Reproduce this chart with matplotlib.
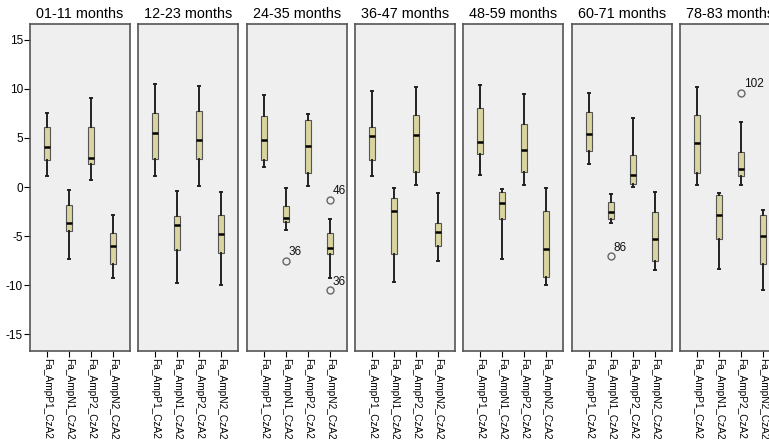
import numpy as np
import matplotlib
matplotlib.use("Agg")
import matplotlib.pyplot as plt

plt.rcParams['font.family'] = ['Liberation Sans', 'DejaVu Sans']
plt.rcParams['axes.unicode_minus'] = False

groups = ['01-11 months', '12-23 months', '24-35 months', '36-47 months',
          '48-59 months', '60-71 months', '78-83 months']
variables = ['Fa_AmpP1_CzA2', 'Fa_AmpN1_CzA2', 'Fa_AmpP2_CzA2', 'Fa_AmpN2_CzA2']

# per group, per variable: (whisker low, q1, median, q3, whisker high)
stats_0111 = [(1.1, 2.8, 4.1, 6.15, 7.55), (-7.3, -4.5, -3.7, -1.8, -0.35),
              (0.75, 2.3, 3.0, 6.1, 9.1), (-9.3, -7.8, -6.0, -4.65, -2.9)]
stats_1223 = [(1.1, 2.9, 5.5, 7.5, 10.5), (-9.8, -6.45, -3.9, -3.0, -0.45),
              (0.1, 2.85, 4.75, 7.7, 10.25), (-10.0, -6.7, -4.8, -2.9, -0.5)]
stats_2435 = [(2.0, 2.7, 4.75, 7.2, 9.4), (-4.4, -3.55, -3.15, -1.9, -0.15),
              (0.15, 1.45, 4.2, 6.8, 7.4), (-9.25, -6.85, -6.2, -4.7, -3.25)]
stats_3647 = [(1.1, 2.7, 5.15, 6.15, 9.8), (-9.65, -6.85, -2.4, -1.1, -0.15),
              (0.2, 1.55, 5.25, 7.3, 10.15), (-7.55, -6.0, -4.6, -3.7, -0.65)]
stats_4859 = [(1.25, 3.4, 4.55, 8.05, 10.35), (-7.3, -3.3, -1.65, -0.5, -0.2),
              (0.2, 1.55, 3.8, 6.45, 9.5), (-9.95, -9.15, -6.3, -2.4, -0.15)]
stats_6071 = [(2.35, 3.7, 5.4, 7.6, 9.55), (-3.65, -3.3, -2.5, -1.5, -0.75),
              (0.05, 0.35, 1.2, 3.3, 7.05), (-8.5, -7.5, -5.25, -2.5, -0.55)]
stats_7883 = [(0.2, 1.45, 4.5, 7.3, 10.15), (-8.3, -5.25, -2.8, -0.85, -0.6),
              (0.2, 1.1, 1.8, 3.55, 6.65), (-10.5, -7.8, -4.95, -2.9, -2.35)]
all_stats = [stats_0111, stats_1223, stats_2435, stats_3647,
             stats_4859, stats_6071, stats_7883]

# outliers: (group index, variable index, value, case label)
outlier_group = [2, 2, 2, 5, 6]
outlier_var = [1, 3, 3, 1, 2]
outlier_val = [-7.5, -1.3, -10.5, -7.05, 9.6]
outlier_lab = ['36', '46', '36', '86', '102']

box_color = '#d9d4a0'
bg_color = '#efefef'

fig = plt.figure(figsize=(7.69, 4.41), dpi=100)
W, H = 769.0, 441.0
lefts = [30, 138, 247, 355, 463, 572, 680]
for i, (name, stats) in enumerate(zip(groups, all_stats)):
    ax = fig.add_axes([lefts[i] / W, 90 / H, 100 / W, 327 / H])
    ax.set_facecolor(bg_color)
    bxp = []
    for j, (lo, q1, med, q3, hi) in enumerate(stats):
        fl = [v for g, k, v in zip(outlier_group, outlier_var, outlier_val)
              if g == i and k == j]
        bxp.append(dict(whislo=lo, q1=q1, med=med, q3=q3, whishi=hi, fliers=fl))
    ax.bxp(bxp, positions=[1, 2, 3, 4], widths=0.26, patch_artist=True,
           boxprops=dict(facecolor=box_color, edgecolor='#555555', linewidth=0.8),
           medianprops=dict(color='black', linewidth=1.8),
           whiskerprops=dict(color='#222222', linewidth=1.4),
           capprops=dict(color='#222222', linewidth=1.4),
           capwidths=0.1,
           flierprops=dict(marker='o', markersize=5, markerfacecolor='none',
                           markeredgecolor='#666666', markeredgewidth=1.0))
    for g, k, v, lab in zip(outlier_group, outlier_var, outlier_val, outlier_lab):
        if g == i:
            ax.text(k + 1 + 0.12, v + 0.25, lab, fontsize=8.5, ha='left',
                    va='bottom', color='#111111')
    ax.set_xlim(0.23, 4.77)
    ax.set_ylim(-16.7, 16.6)
    ax.set_xticks([1, 2, 3, 4])
    ax.set_xticklabels(variables, rotation=-90, fontsize=7.3)
    ax.tick_params(axis='x', length=4, width=0.8, pad=1)
    ax.set_title(name, fontsize=10.4, pad=4)
    for s in ax.spines.values():
        s.set_color('#555555')
        s.set_linewidth(1.2)
    if i == 0:
        ax.set_yticks([15, 10, 5, 0, -5, -10, -15])
        ax.tick_params(axis='y', length=4, width=0.8, labelsize=8.5, pad=1)
    else:
        ax.set_yticks([])

fig.savefig('out.png', dpi=100)
